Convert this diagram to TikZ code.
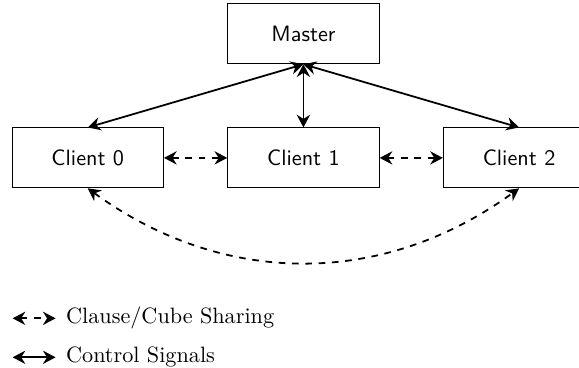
\documentclass[tikz,border=0pt]{standalone}
\usepackage{tikz}
\usetikzlibrary{arrows.meta, positioning}

\begin{document}
\begin{tikzpicture}[
    node distance=1cm,
    box/.style={
        rectangle, draw,
        minimum width=2.4cm,
        minimum height=0.95cm,
        align=center, font=\sffamily
    },
    ctrl/.style={{Stealth[length=2mm, width=2.1mm]}-{Stealth[length=2mm, width=2.1mm]}, thick},
    share/.style={{Stealth[length=2mm, width=2.1mm]}-{Stealth[length=2mm, width=2.1mm]}, thick, dashed},
    legend/.style={font=\normalsize, inner sep=0pt}
]
    \useasboundingbox (-1.39,2.50) rectangle (7.777,-3.323);

    \node[box]                  (c0) {Client 0};
    \node[box, right=of c0]     (c1) {Client 1};
    \node[box, right=of c1]     (c2) {Client 2};
    \node[box, above=of c1]     (master) {Master};

    % control links
    \draw[ctrl] (master.south) -- (c0.north);
    \draw[ctrl] (master.south) -- (c1.north);
    \draw[ctrl] (master.south) -- (c2.north);

    % sharing links
    \draw[share] (c0) -- (c1);
    \draw[share] (c1) -- (c2);
    \draw[share] (c0.south) to[bend right=36] (c2.south);

    % legend
    \coordinate (l1a) at (-1.19,-2.54);
    \coordinate (l1b) at (-0.51,-2.54);
    \coordinate (l2a) at (-1.19,-3.157);
    \coordinate (l2b) at (-0.51,-3.157);
    \draw[share] (l1a) -- (l1b);
    \draw[ctrl]  (l2a) -- (l2b);
    \node[legend, right=0.16cm of l1b] (l1t) {Clause/Cube Sharing};
    \node[legend, right=0.16cm of l2b] (l2t) {Control Signals};
\end{tikzpicture}
\end{document}
